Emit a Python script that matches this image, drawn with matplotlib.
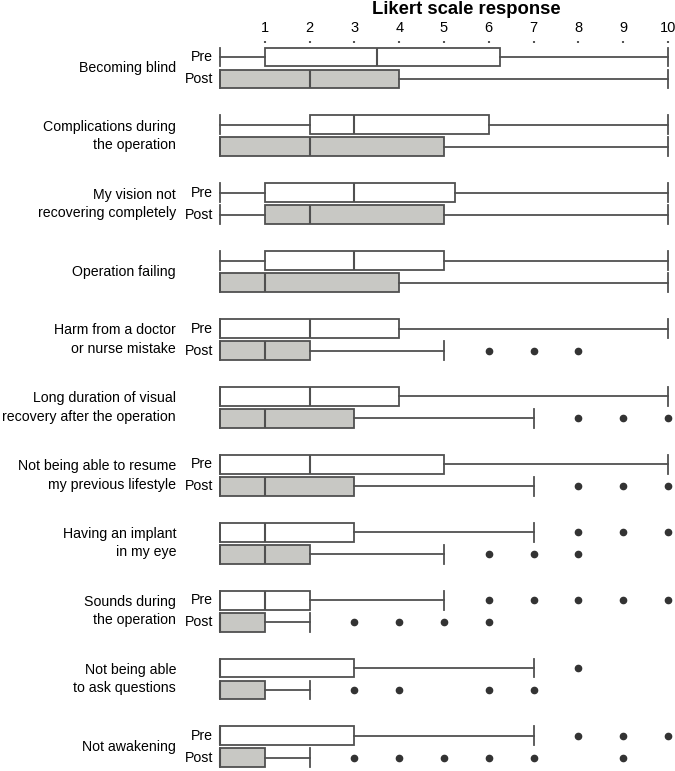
import matplotlib
matplotlib.use("Agg")
import matplotlib.pyplot as plt
import numpy as np

plt.rcParams['font.family'] = ['Liberation Sans', 'DejaVu Sans']

categories = [
    "Becoming blind",
    "Complications during\nthe operation",
    "My vision not\nrecovering completely",
    "Operation failing",
    "Harm from a doctor\nor nurse mistake",
    "Long duration of visual\nrecovery after the operation",
    "Not being able to resume\nmy previous lifestyle",
    "Having an implant\nin my eye",
    "Sounds during\nthe operation",
    "Not being able\nto ask questions",
    "Not awakening",
]
show_prepost = [True, False, True, False, True, False, True, False, True, False, True]

pre_whislo = [0, 0, 0, 0, 0, 0, 0, 0, 0, 0, 0]
pre_q1     = [1, 2, 1, 1, 0, 0, 0, 0, 0, 0, 0]
pre_med    = [3.5, 3, 3, 3, 2, 2, 2, 1, 1, 0, 0]
pre_q3     = [6.25, 6, 5.25, 5, 4, 4, 5, 3, 2, 3, 3]
pre_whishi = [10, 10, 10, 10, 10, 10, 10, 7, 5, 7, 7]
pre_fliers = [[], [], [], [], [], [], [], [8, 9, 10], [6, 7, 8, 9, 10], [8], [8, 9, 10]]

post_whislo = [0, 0, 0, 0, 0, 0, 0, 0, 0, 0, 0]
post_q1     = [0, 0, 1, 0, 0, 0, 0, 0, 0, 0, 0]
post_med    = [2, 2, 2, 1, 1, 1, 1, 1, 0, 0, 0]
post_q3     = [4, 5, 5, 4, 2, 3, 3, 2, 1, 1, 1]
post_whishi = [10, 10, 10, 10, 5, 7, 7, 5, 2, 2, 2]
post_fliers = [[], [], [], [], [6, 7, 8], [8, 9, 10], [8, 9, 10], [6, 7, 8],
               [3, 4, 5, 6], [3, 4, 6, 7], [3, 4, 5, 6, 7, 9]]

xticks = list(range(1, 11))

W, H = 675, 771
fig = plt.figure(figsize=(W / 100, H / 100), dpi=100)

ax_left, ax_right = 220, 668
ax_top, ax_bottom = 43, 771
ax = fig.add_axes([ax_left / W, 1 - ax_bottom / H, (ax_right - ax_left) / W, (ax_bottom - ax_top) / H])

group_step = 3.086
row_px = 22.0
n = len(categories)
pre_pos = [i * group_step for i in range(n)]
post_pos = [p + 1 for p in pre_pos]

def make_stats(lo, q1, med, q3, hi, fl):
    return [dict(whislo=a, q1=b, med=c, q3=d, whishi=e, fliers=np.array(f, dtype=float))
            for a, b, c, d, e, f in zip(lo, q1, med, q3, hi, fl)]

edge = "#505050"
common = dict(vert=False, widths=0.86, capwidths=0.86, patch_artist=True, showfliers=True,
              whiskerprops=dict(color=edge, lw=1.3),
              capprops=dict(color=edge, lw=1.3),
              medianprops=dict(color=edge, lw=1.5),
              flierprops=dict(marker='o', markerfacecolor='#333333', markeredgecolor='#333333',
                              markersize=4.5, linestyle='none'))

b1 = ax.bxp(make_stats(pre_whislo, pre_q1, pre_med, pre_q3, pre_whishi, pre_fliers),
            positions=pre_pos, boxprops=dict(facecolor='white', edgecolor=edge, lw=1.3), **common)
b2 = ax.bxp(make_stats(post_whislo, post_q1, post_med, post_q3, post_whishi, post_fliers),
            positions=post_pos, boxprops=dict(facecolor='#c8c8c4', edgecolor=edge, lw=1.3), **common)
for bp in (b1, b2):
    for art in bp.values():
        for a in art:
            a.set_clip_on(False)

top_y = -(57 - ax_top) / row_px
bottom_y = top_y + (ax_bottom - ax_top) / row_px
ax.set_ylim(bottom_y, top_y)
ax.set_xlim(0, 10)

ax.xaxis.tick_top()
ax.set_xticks(xticks)
ax.set_xticklabels([str(t) for t in xticks], fontsize=10.5)
ax.tick_params(axis='x', length=1.5, width=1.5, color='#555555', pad=4)
ax.set_yticks([])
for s in ax.spines.values():
    s.set_visible(False)

fig.text(466 / W, 1 - 9 / H, "Likert scale response",
         ha='center', va='center', fontsize=13.3, fontweight='bold')

for i, cat in enumerate(categories):
    yc = (pre_pos[i] + post_pos[i]) / 2
    ax.text(-44 / 44.8, yc, cat, ha='right', va='center', fontsize=10.2,
            linespacing=1.41, clip_on=False)
    if show_prepost[i]:
        ax.text(-7 / 44.8, pre_pos[i], "Pre", ha='right', va='center', fontsize=10.2, clip_on=False)
        ax.text(-7 / 44.8, post_pos[i], "Post", ha='right', va='center', fontsize=10.2, clip_on=False)

fig.savefig("out.png", dpi=100)
